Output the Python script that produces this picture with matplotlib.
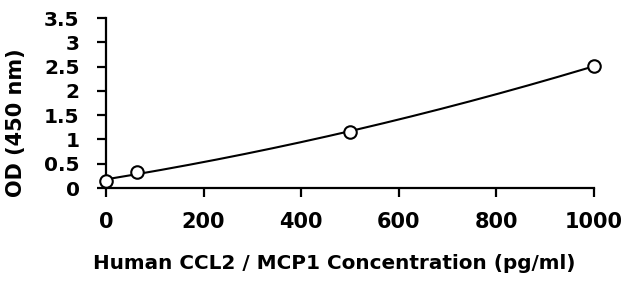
import numpy as np
import matplotlib
matplotlib.use("Agg")
import matplotlib.pyplot as plt

concentration = [0, 62.5, 500, 1000]
od_values = [0.14, 0.33, 1.16, 2.51]
x_ticks = [0, 200, 400, 600, 800, 1000]
y_ticks = [0, 0.5, 1, 1.5, 2, 2.5, 3, 3.5]
y_tick_labels = ["0", "0.5", "1", "1.5", "2", "2.5", "3", "3.5"]

plt.rcParams['font.family'] = ['DejaVu Sans']
plt.rcParams['font.weight'] = 'bold'

W, H = 626, 291
fig = plt.figure(figsize=(W/100, H/100), dpi=100)
ax = fig.add_axes([106/W, 1-188/H, (594-106)/W, (188-18)/H])

coef = np.polyfit(concentration, od_values, 2)
xs = np.linspace(0, 1000, 300)
ax.plot(xs, np.polyval(coef, xs), color='black', lw=1.5, zorder=2)
ax.plot(concentration, od_values, 'o', mfc='white', mec='black', ms=9, mew=1.5, zorder=3, clip_on=False)

ax.set_xlim(0, 1000)
ax.set_ylim(0, 3.5)
ax.set_xticks(x_ticks)
ax.set_yticks(y_ticks)
ax.set_yticklabels(y_tick_labels)
for s in ['top', 'right']:
    ax.spines[s].set_visible(False)
for s in ['left', 'bottom']:
    ax.spines[s].set_linewidth(1.6)
ax.tick_params(axis='both', direction='out', width=1.6, length=6.5)
ax.tick_params(axis='y', pad=12.5, labelsize=14.5)
ax.tick_params(axis='x', pad=11, labelsize=15)

fig.text(334/W, 1-269/H, "Human CCL2 / MCP1 Concentration (pg/ml)", fontsize=14.4,
         fontweight='bold', ha='center', va='baseline')
fig.text(16/W, 1-123/H, "OD (450 nm)", fontsize=15, fontweight='bold',
         ha='center', va='center', rotation=90)

fig.savefig("out.png", dpi=100)
